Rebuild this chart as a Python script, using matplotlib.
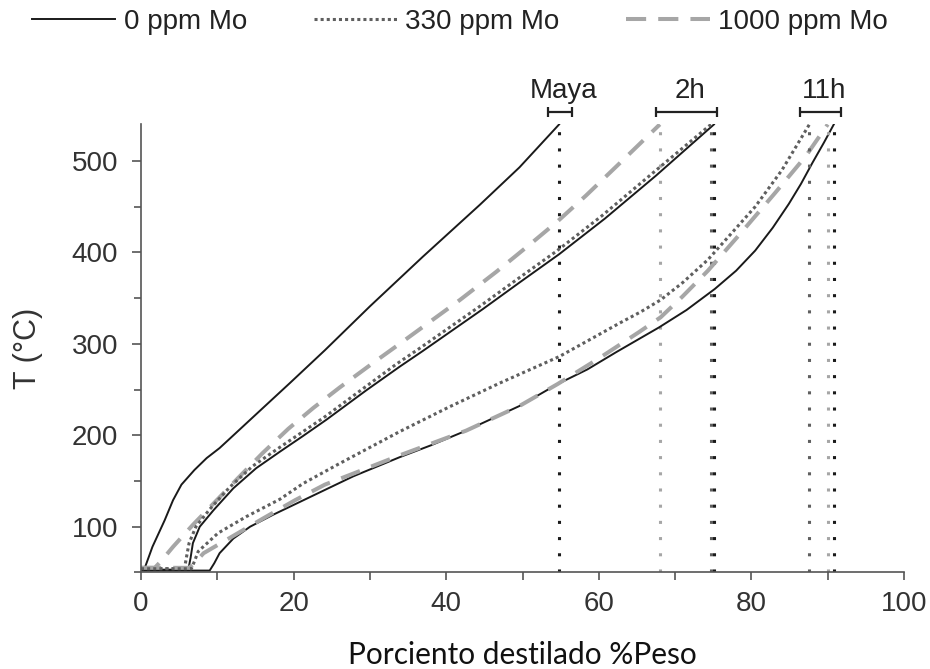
import matplotlib
matplotlib.use('Agg')
import matplotlib.pyplot as plt
from matplotlib.ticker import MultipleLocator

# distillation curves, T (°C) vs % weight distilled
# Maya (0 ppm only)
maya_0_x = [0.0, 0.5, 1.5, 3.1, 4.2, 5.3, 7.0, 8.6, 10.3, 11.6, 13.8, 16.0, 19.5, 24.1, 30.0, 36.9, 44.4, 49.6, 54.8]
maya_0_t = [53, 55, 78, 107, 129, 146, 162, 175, 186, 196, 213, 230, 257, 293, 341, 395, 452, 493, 540]

# 2h
h2_0_x = [0.0, 6.2, 6.5, 6.8, 7.7, 9.5, 12.1, 15.1, 18.2, 21.2, 24.3, 29.5, 33.9, 36.9, 44.8, 49.6, 54.8, 60.8, 67.5, 75.1]
h2_0_t = [53, 53, 66, 82, 100, 118, 142, 164, 182, 199, 217, 249, 275, 292, 338, 367, 398, 437, 484, 540]
h2_330_x = [0.0, 5.7, 5.9, 6.3, 7.2, 9.0, 11.6, 14.6, 17.7, 20.7, 23.9, 29.1, 33.5, 36.5, 44.4, 49.2, 54.4, 60.4, 67.1, 74.7]
h2_330_t = [54, 54, 64, 82, 100, 119, 143, 166, 184, 201, 219, 251, 278, 295, 341, 370, 401, 440, 487, 540]
h2_1000_x = [0.0, 1.8, 2.6, 4.2, 6.8, 9.7, 12.7, 16.0, 19.3, 22.6, 26.0, 30.4, 33.9, 41.8, 46.6, 51.3, 54.6, 58.3, 62.3, 68.0]
h2_1000_t = [55, 55, 62, 78, 102, 127, 153, 181, 207, 230, 252, 279, 300, 348, 379, 411, 434, 462, 494, 540]

# 11h
h11_0_x = [0.0, 9.0, 9.6, 10.3, 12.1, 14.3, 17.3, 20.8, 24.3, 27.8, 33.9, 38.0, 42.6, 49.6, 54.6, 58.5, 62.3,
           67.9, 71.5, 75.2, 78.0, 80.5, 82.8, 84.9, 86.5, 88.0, 89.5, 90.8]
h11_0_t = [52, 52, 60, 71, 87, 100, 113, 127, 141, 155, 176, 189, 205, 232, 256, 272, 291,
           318, 337, 360, 380, 402, 427, 453, 475, 498, 520, 540]
h11_330_x = [0.0, 6.6, 7.0, 7.5, 10.1, 13.8, 18.2, 21.2, 26.0, 33.9, 40.4, 47.0, 54.8, 62.8, 65.5, 68.1,
             71.0, 74.3, 80.5, 84.0, 87.6]
h11_330_t = [54, 54, 62, 73, 93, 111, 130, 147, 169, 204, 231, 257, 286, 323, 335, 348,
             367, 392, 450, 490, 540]
h11_1000_x = [0.0, 6.3, 7.0, 8.2, 11.9, 16.0, 20.2, 24.1, 27.8, 33.9, 42.6, 49.6, 54.6, 60.0, 65.3, 68.1,
              71.0, 74.3, 78.7, 83.1, 87.1, 90.0]
h11_1000_t = [55, 55, 60, 71, 89, 109, 129, 146, 158, 178, 205, 232, 256, 284, 313, 329,
              352, 380, 422, 465, 505, 540]

group_names = ['Maya', '2h', '11h']
bracket_lo = [53.4, 67.5, 86.4]
bracket_hi = [56.5, 75.5, 91.8]

legend_labels = ['0 ppm Mo', '330 ppm Mo', '1000 ppm Mo']

c_solid = '#1a1a1a'
c_dot = '#5f5f5f'
c_dash = '#a6a6a6'
styles = {
    0: dict(color=c_solid, lw=1.4, ls='-'),
    330: dict(color=c_dot, lw=2.2, ls=(0, (1, 1))),
    1000: dict(color=c_dash, lw=2.9, ls=(0, (5, 3))),
}

curves = [
    (maya_0_x, maya_0_t, 0),
    (h2_1000_x, h2_1000_t, 1000),
    (h2_0_x, h2_0_t, 0),
    (h2_330_x, h2_330_t, 330),
    (h11_0_x, h11_0_t, 0),
    (h11_1000_x, h11_1000_t, 1000),
    (h11_330_x, h11_330_t, 330),
]

plt.rcParams['font.family'] = ['Liberation Sans', 'DejaVu Sans']

fig = plt.figure(figsize=(9.3, 6.69), dpi=100)
ax = fig.add_axes([141 / 930, (669 - 572.4) / 669, 763 / 930, 448 / 669])

handles = {}
for xs, ts, ppm in curves:
    st = styles[ppm]
    ln, = ax.plot(xs, ts, color=st['color'], lw=st['lw'], linestyle=st['ls'])
    handles[ppm] = ln
    # end-point marker line
    ax.plot([xs[-1], xs[-1]], [50, 540], color=st['color'], lw=2.2,
            linestyle=(0, (1, 4.3)))

# group brackets above the plot
for name, lo, hi in zip(group_names, bracket_lo, bracket_hi):
    mid = (lo + hi) / 2
    ax.errorbar([mid], [554], xerr=[(hi - lo) / 2], fmt='none', ecolor='#222222',
                elinewidth=1.6, capsize=3.5, capthick=1.6, clip_on=False)
    ax.text(mid + 0.4, 569, name, ha='center', va='baseline', fontsize=20, color='#222222')

ax.set_xlim(0, 100)
ax.set_ylim(50, 540)
ax.xaxis.set_major_locator(MultipleLocator(20))
ax.xaxis.set_minor_locator(MultipleLocator(10))
ax.yaxis.set_major_locator(MultipleLocator(100))
ax.yaxis.set_minor_locator(MultipleLocator(50))
ax.set_yticks([100, 200, 300, 400, 500])

for s in ['top', 'right']:
    ax.spines[s].set_visible(False)
for s in ['left', 'bottom']:
    ax.spines[s].set_color('#555555')
    ax.spines[s].set_linewidth(1.2)

ax.tick_params(axis='both', which='both', direction='out', color='#555555', width=1.2,
               labelsize=20, labelcolor='#333333')
ax.tick_params(axis='x', which='both', length=5.5, pad=8)
ax.tick_params(axis='y', which='major', length=6.5, pad=10)
ax.tick_params(axis='y', which='minor', length=5)

ax.set_ylabel('T (°C)', fontsize=22, color='#333333', va='center')
ax.yaxis.set_label_coords(-0.148, 0.5)

fig.text(522 / 930, 1 - 664 / 669, 'Porciento destilado %Peso', ha='center', va='baseline',
         fontsize=21.5, family=['Lato', 'DejaVu Sans'], color='#111111')

fig.legend([handles[0], handles[330], handles[1000]], legend_labels,
           loc='center left', bbox_to_anchor=(32 / 930, 1 - 22 / 669), ncol=3,
           frameon=False, fontsize=20, handlelength=3.0, handletextpad=0.3,
           columnspacing=2.4, borderpad=0, borderaxespad=0, labelcolor='#222222')

plt.savefig('out.png', dpi=100)
